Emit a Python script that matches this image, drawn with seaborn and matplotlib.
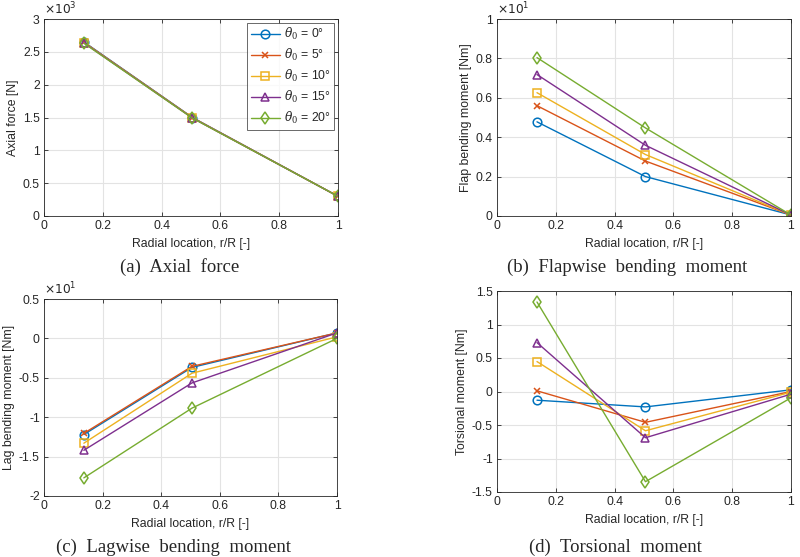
import numpy as np
import pandas as pd
import matplotlib
matplotlib.use("Agg")
import matplotlib.pyplot as plt
from matplotlib.ticker import FuncFormatter, MultipleLocator
import seaborn as sns

# ---------------- data ----------------
r_R = [0.136, 0.505, 1.0]
pitch_labels = ["0", "5", "10", "15", "20"]

axial_force = {  # N
    "0":  [2650, 1500, 300],
    "5":  [2645, 1497, 300],
    "10": [2640, 1495, 300],
    "15": [2635, 1492, 300],
    "20": [2630, 1490, 300],
}
flap_moment = {  # Nm
    "0":  [4.78, 2.00, 0.05],
    "5":  [5.60, 2.79, 0.05],
    "10": [6.26, 3.12, 0.05],
    "15": [7.18, 3.59, 0.05],
    "20": [8.04, 4.47, 0.05],
}
lag_moment = {  # Nm
    "0":  [-12.2, -3.68, 0.70],
    "5":  [-12.05, -3.55, 0.70],
    "10": [-13.3, -4.42, 0.20],
    "15": [-14.2, -5.65, 0.70],
    "20": [-17.7, -8.85, 0.00],
}
tors_moment = {  # Nm
    "0":  [-0.13, -0.23, 0.025],
    "5":  [0.01, -0.46, 0.00],
    "10": [0.447, -0.586, -0.01],
    "15": [0.73, -0.69, -0.04],
    "20": [1.336, -1.346, -0.094],
}

colors = ["#0072BD", "#D95319", "#EDB120", "#7E2F8E", "#77AC30"]
markers = ["o", "x", "s", "^", "d"]

sns.set_theme(style="ticks")
plt.rcParams["font.family"] = ["Liberation Sans", "DejaVu Sans"]
plt.rcParams["mathtext.fontset"] = "dejavuserif"

fig = plt.figure(figsize=(8.0, 5.57), dpi=100)

W, H = 800.0, 557.0
def box(x0, x1, ytop, ybot):
    return [x0 / W, 1 - ybot / H, (x1 - x0) / W, (ybot - ytop) / H]

axes = [
    fig.add_axes(box(44, 338, 19, 216)),
    fig.add_axes(box(497, 791, 19, 216)),
    fig.add_axes(box(44, 337, 299, 496)),
    fig.add_axes(box(497, 791, 291, 492)),
]

datasets = [axial_force, flap_moment, lag_moment, tors_moment]
ylabels = ["Axial force [N]", "Flap bending moment [Nm]",
           "Lag bending moment [Nm]", "Torsional moment [Nm]"]
ylims = [(0, 3000), (0, 10), (-20, 5), (-1.5, 1.5)]
ysteps = [500, 2, 5, 0.5]
scales = [1000, 10, 10, 1]
captions = ["(a)  Axial  force", "(b)  Flapwise  bending  moment",
            "(c)  Lagwise  bending  moment", "(d)  Torsional  moment"]
cap_pos = [(180, 267), (627, 267), (173, 547), (615, 547)]

FS = 8.8

for k, ax in enumerate(axes):
    data = datasets[k]
    for i, p in enumerate(pitch_labels):
        df = pd.DataFrame({"r": r_R, "v": data[p]})
        sns.lineplot(data=df, x="r", y="v", ax=ax, color=colors[i],
                     marker=markers[i], markersize=6.2 if markers[i] != "x" else 5,
                     markerfacecolor="none", markeredgecolor=colors[i],
                     markeredgewidth=1.1, linewidth=1.0,
                     label=r"$\theta_0$ = " + p + "\u00b0", legend=False)
    ax.set_xlim(0, 1)
    ax.set_ylim(*ylims[k])
    ax.xaxis.set_major_locator(MultipleLocator(0.2))
    ax.yaxis.set_major_locator(MultipleLocator(ysteps[k]))
    s = scales[k]
    ax.yaxis.set_major_formatter(FuncFormatter(lambda v, pos, s=s: "%g" % round(v / s, 6)))
    ax.xaxis.set_major_formatter(FuncFormatter(lambda v, pos: "%g" % round(v, 6)))
    ax.grid(True, color="#e3e3e3", linewidth=0.8)
    ax.set_axisbelow(True)
    for sp in ax.spines.values():
        sp.set_visible(True)
        sp.set_color("#262626")
        sp.set_linewidth(0.6)
    ax.tick_params(direction="in", length=3, width=0.6, labelsize=FS,
                   colors="#262626", pad=3, top=True, right=True)
    ax.set_xlabel("Radial location, r/R [-]", fontsize=FS, color="#262626", labelpad=4)
    ax.set_ylabel(ylabels[k], fontsize=FS, color="#262626", labelpad=3)
    if s != 1:
        exp = int(round(np.log10(s)))
        ax.text(0.0, 1.01, r"$\times10^{%d}$" % exp, transform=ax.transAxes,
                fontsize=FS, color="#262626", ha="left", va="bottom",
                math_fontfamily="dejavusans")
    fig.text(cap_pos[k][0] / W, 1 - cap_pos[k][1] / H, captions[k],
             ha="center", va="center", fontsize=13.5,
             family=["Liberation Serif", "DejaVu Serif"])

leg = axes[0].legend(loc="upper right", fontsize=FS, frameon=True, fancybox=False,
                     borderpad=0.3, labelspacing=0.4, handlelength=2.4,
                     handletextpad=0.3, borderaxespad=0.3)
leg.get_frame().set_edgecolor("#262626")
leg.get_frame().set_linewidth(0.6)

fig.savefig("out.png", dpi=100)
